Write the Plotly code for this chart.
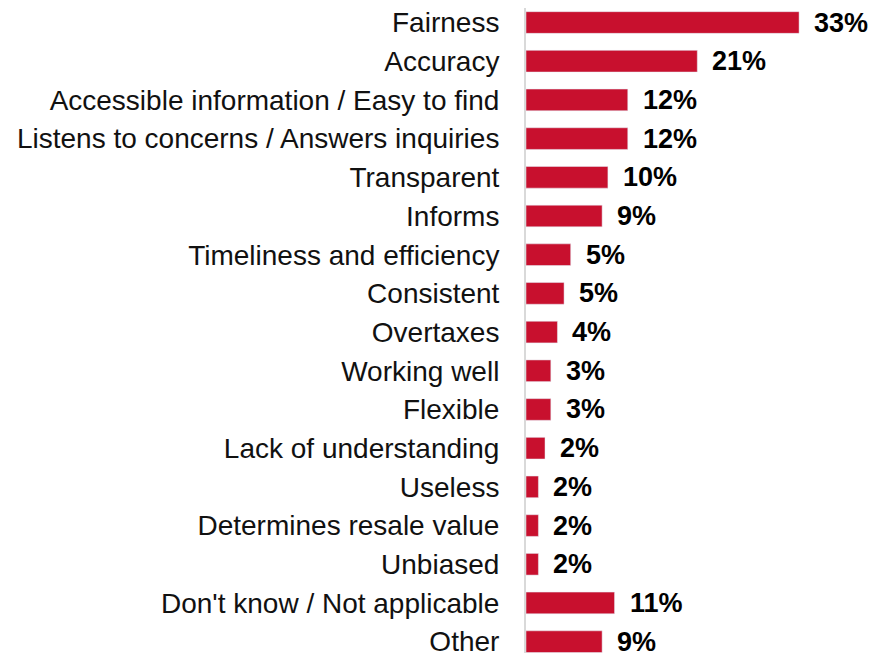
import plotly.graph_objects as go

# Answer categories, top to bottom
categories = [
    "Fairness", "Accuracy", "Accessible information / Easy to find",
    "Listens to concerns / Answers inquiries", "Transparent", "Informs",
    "Timeliness and efficiency", "Consistent", "Overtaxes", "Working well",
    "Flexible", "Lack of understanding", "Useless", "Determines resale value",
    "Unbiased", "Don't know / Not applicable", "Other",
]
# share of respondents (%)
values = [33.0, 20.7, 12.3, 12.3, 9.9, 9.2, 5.4, 4.6, 3.8, 3.0, 3.0, 2.3, 1.5, 1.5, 1.5, 10.7, 9.2]
value_labels = ["33%", "21%", "12%", "12%", "10%", "9%", "5%", "5%", "4%", "3%",
                "3%", "2%", "2%", "2%", "2%", "11%", "9%"]

fig = go.Figure()

fig.add_trace(go.Bar(
    x=values,
    y=categories,
    orientation="h",
    marker=dict(color="#C8102E"),
    hoverinfo="skip",
))

# value labels sit a bit to the right of each bar end
for cat, val, lab in zip(categories, values, value_labels):
    fig.add_annotation(
        x=val, y=cat, text="<b>" + lab + "</b>",
        xanchor="left", yanchor="middle", xshift=13, showarrow=False,
        font=dict(family="Liberation Sans, Arial, sans-serif", size=27, color="#000000"),
    )

fig.update_layout(
    width=883,
    height=653,
    margin=dict(l=518, r=34, t=0, b=0),
    plot_bgcolor="white",
    paper_bgcolor="white",
    bargap=0.44,
    showlegend=False,
    font=dict(family="Liberation Sans, Arial, sans-serif", size=28, color="#111111"),
)
fig.update_xaxes(range=[0, 40], visible=False, automargin=False)
fig.update_yaxes(
    categoryorder="array",
    categoryarray=categories,
    range=[16.5, -0.375],
    showline=True,
    linecolor="#d9d9d9",
    linewidth=2,
    showgrid=False,
    ticks="",
    ticklabelstandoff=19,
    automargin=False,
)

fig.write_html("out.html")
